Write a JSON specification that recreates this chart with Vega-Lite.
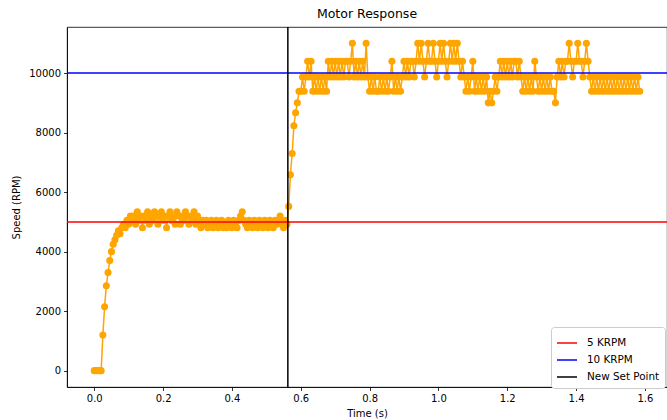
{
"$schema": "https://vega.github.io/schema/vega-lite/v6.json",
"width": 600,
"height": 360,
"autosize": {"type": "none"},
"padding": {"left": 67, "top": 27, "right": 0, "bottom": 33},
"background": "white",
"config": {
  "font": "DejaVu Sans",
  "view": {"stroke": "black", "strokeWidth": 0.8},
  "axis": {"domainColor": "black", "domainWidth": 0.8, "tickColor": "black", "tickWidth": 0.8, "tickSize": 3.5, "labelFontSize": 10, "labelColor": "black", "labelFont": "DejaVu Sans", "titleFont": "DejaVu Sans", "titleFontSize": 10, "titleFontWeight": "normal", "titleColor": "black", "grid": false},
  "title": {"fontSize": 12.5, "fontWeight": "normal", "font": "DejaVu Sans", "color": "black", "offset": 6},
  "legend": {"orient": "none", "legendX": 484, "legendY": 300, "padding": 5, "fillColor": "white", "strokeColor": "#cccccc", "cornerRadius": 3, "symbolType": "stroke", "symbolSize": 400, "symbolStrokeWidth": 1.5, "labelFontSize": 10.4, "labelFont": "DejaVu Sans", "labelColor": "black", "rowPadding": -4, "labelOffset": 9}
},
"title": "Motor Response",
"datasets": {
  "speed": [
{"t":0,"s":0},{"t":0.005,"s":0},{"t":0.01,"s":0},{"t":0.015,"s":0},{"t":0.02,"s":0},{"t":0.025,"s":1200},{"t":0.03,"s":2150},{"t":0.035,"s":2850},{"t":0.04,"s":3300},{"t":0.045,"s":3700},
{"t":0.05,"s":4000},{"t":0.055,"s":4250},{"t":0.06,"s":4400},{"t":0.065,"s":4550},{"t":0.07,"s":4700},{"t":0.075,"s":4600},{"t":0.08,"s":4800},{"t":0.085,"s":4920},{"t":0.09,"s":4800},{"t":0.095,"s":5050},
{"t":0.1,"s":4920},{"t":0.105,"s":5200},{"t":0.11,"s":5050},{"t":0.115,"s":5200},{"t":0.12,"s":4920},{"t":0.125,"s":5340},{"t":0.13,"s":5050},{"t":0.135,"s":5200},{"t":0.14,"s":4800},{"t":0.145,"s":5200},
{"t":0.15,"s":5050},{"t":0.155,"s":5340},{"t":0.16,"s":4920},{"t":0.165,"s":5200},{"t":0.17,"s":5050},{"t":0.175,"s":5340},{"t":0.18,"s":5200},{"t":0.185,"s":4920},{"t":0.19,"s":5200},{"t":0.195,"s":5340},
{"t":0.2,"s":5050},{"t":0.205,"s":5200},{"t":0.21,"s":4800},{"t":0.215,"s":5200},{"t":0.22,"s":5340},{"t":0.225,"s":5050},{"t":0.23,"s":5200},{"t":0.235,"s":4920},{"t":0.24,"s":5340},{"t":0.245,"s":5200},
{"t":0.25,"s":4920},{"t":0.255,"s":5200},{"t":0.26,"s":5050},{"t":0.265,"s":5340},{"t":0.27,"s":5200},{"t":0.275,"s":4920},{"t":0.28,"s":5200},{"t":0.285,"s":5050},{"t":0.29,"s":5340},{"t":0.295,"s":4920},
{"t":0.3,"s":5200},{"t":0.305,"s":5050},{"t":0.31,"s":4800},{"t":0.315,"s":5050},{"t":0.32,"s":4920},{"t":0.325,"s":5050},{"t":0.33,"s":4800},{"t":0.335,"s":4920},{"t":0.34,"s":5050},{"t":0.345,"s":4800},
{"t":0.35,"s":4920},{"t":0.355,"s":5050},{"t":0.36,"s":4800},{"t":0.365,"s":4920},{"t":0.37,"s":5050},{"t":0.375,"s":4800},{"t":0.38,"s":4920},{"t":0.385,"s":4800},{"t":0.39,"s":5050},{"t":0.395,"s":4920},
{"t":0.4,"s":4800},{"t":0.405,"s":5050},{"t":0.41,"s":4920},{"t":0.415,"s":4800},{"t":0.42,"s":5050},{"t":0.425,"s":5200},{"t":0.43,"s":5340},{"t":0.435,"s":5050},{"t":0.44,"s":4920},{"t":0.445,"s":4800},
{"t":0.45,"s":5050},{"t":0.455,"s":4920},{"t":0.46,"s":4800},{"t":0.465,"s":5050},{"t":0.47,"s":4920},{"t":0.475,"s":4800},{"t":0.48,"s":5050},{"t":0.485,"s":4920},{"t":0.49,"s":4800},{"t":0.495,"s":5050},
{"t":0.5,"s":4920},{"t":0.505,"s":4800},{"t":0.51,"s":5050},{"t":0.515,"s":4920},{"t":0.52,"s":4800},{"t":0.525,"s":5050},{"t":0.53,"s":4920},{"t":0.535,"s":5050},{"t":0.54,"s":5200},{"t":0.545,"s":4920},
{"t":0.55,"s":4800},{"t":0.555,"s":5050},{"t":0.56,"s":4920},{"t":0.565,"s":5520},{"t":0.57,"s":6580},{"t":0.575,"s":7300},{"t":0.58,"s":8230},{"t":0.585,"s":8670},{"t":0.59,"s":9000},{"t":0.595,"s":9390},
{"t":0.6,"s":9390},{"t":0.605,"s":9870},{"t":0.61,"s":9390},{"t":0.615,"s":9870},{"t":0.62,"s":10400},{"t":0.625,"s":9870},{"t":0.63,"s":10400},{"t":0.635,"s":9390},{"t":0.64,"s":9870},{"t":0.645,"s":9390},
{"t":0.65,"s":9870},{"t":0.655,"s":9390},{"t":0.66,"s":9870},{"t":0.665,"s":9390},{"t":0.67,"s":9870},{"t":0.675,"s":9390},{"t":0.68,"s":10400},{"t":0.685,"s":9870},{"t":0.69,"s":10400},{"t":0.695,"s":9870},
{"t":0.7,"s":10400},{"t":0.705,"s":9870},{"t":0.71,"s":10400},{"t":0.715,"s":9870},{"t":0.72,"s":10400},{"t":0.725,"s":9870},{"t":0.73,"s":10400},{"t":0.735,"s":10400},{"t":0.74,"s":9870},{"t":0.745,"s":10400},
{"t":0.75,"s":11000},{"t":0.755,"s":9870},{"t":0.76,"s":10400},{"t":0.765,"s":9870},{"t":0.77,"s":10400},{"t":0.775,"s":9870},{"t":0.78,"s":10400},{"t":0.785,"s":9870},{"t":0.79,"s":11000},{"t":0.795,"s":9870},
{"t":0.8,"s":9390},{"t":0.805,"s":9870},{"t":0.81,"s":9390},{"t":0.815,"s":9870},{"t":0.82,"s":9390},{"t":0.825,"s":9390},{"t":0.83,"s":9870},{"t":0.835,"s":9390},{"t":0.84,"s":9870},{"t":0.845,"s":9390},
{"t":0.85,"s":9870},{"t":0.855,"s":9390},{"t":0.86,"s":9870},{"t":0.865,"s":10400},{"t":0.87,"s":9390},{"t":0.875,"s":9870},{"t":0.88,"s":9390},{"t":0.885,"s":9870},{"t":0.89,"s":9390},{"t":0.895,"s":9870},
{"t":0.9,"s":10400},{"t":0.905,"s":9870},{"t":0.91,"s":10400},{"t":0.915,"s":9870},{"t":0.92,"s":10400},{"t":0.925,"s":10400},{"t":0.93,"s":9870},{"t":0.935,"s":10400},{"t":0.94,"s":11000},{"t":0.945,"s":10400},
{"t":0.95,"s":11000},{"t":0.955,"s":10400},{"t":0.96,"s":9870},{"t":0.965,"s":10400},{"t":0.97,"s":11000},{"t":0.975,"s":10400},{"t":0.98,"s":10400},{"t":0.985,"s":11000},{"t":0.99,"s":10400},{"t":0.995,"s":9870},
{"t":1,"s":10400},{"t":1.005,"s":11000},{"t":1.01,"s":10400},{"t":1.015,"s":11000},{"t":1.02,"s":10400},{"t":1.025,"s":9870},{"t":1.03,"s":10400},{"t":1.035,"s":11000},{"t":1.04,"s":10400},{"t":1.045,"s":11000},
{"t":1.05,"s":10400},{"t":1.055,"s":11000},{"t":1.06,"s":10400},{"t":1.065,"s":9870},{"t":1.07,"s":10400},{"t":1.075,"s":9870},{"t":1.08,"s":9390},{"t":1.085,"s":9870},{"t":1.09,"s":9390},{"t":1.095,"s":9870},
{"t":1.1,"s":10400},{"t":1.105,"s":9390},{"t":1.11,"s":9870},{"t":1.115,"s":9390},{"t":1.12,"s":9870},{"t":1.125,"s":9390},{"t":1.13,"s":9870},{"t":1.135,"s":9390},{"t":1.14,"s":9870},{"t":1.145,"s":9000},
{"t":1.15,"s":9390},{"t":1.155,"s":9000},{"t":1.16,"s":9390},{"t":1.165,"s":9870},{"t":1.17,"s":9390},{"t":1.175,"s":9870},{"t":1.18,"s":10400},{"t":1.185,"s":9870},{"t":1.19,"s":10400},{"t":1.195,"s":9870},
{"t":1.2,"s":10400},{"t":1.205,"s":9870},{"t":1.21,"s":10400},{"t":1.215,"s":9870},{"t":1.22,"s":10400},{"t":1.225,"s":10400},{"t":1.23,"s":9870},{"t":1.235,"s":10400},{"t":1.24,"s":9870},{"t":1.245,"s":9390},
{"t":1.25,"s":9870},{"t":1.255,"s":9390},{"t":1.26,"s":9870},{"t":1.265,"s":9390},{"t":1.27,"s":9870},{"t":1.275,"s":9390},{"t":1.28,"s":10400},{"t":1.285,"s":9870},{"t":1.29,"s":9390},{"t":1.295,"s":9870},
{"t":1.3,"s":9390},{"t":1.305,"s":9870},{"t":1.31,"s":9390},{"t":1.315,"s":9870},{"t":1.32,"s":9390},{"t":1.325,"s":9870},{"t":1.33,"s":9390},{"t":1.335,"s":9390},{"t":1.34,"s":9000},{"t":1.345,"s":9870},
{"t":1.35,"s":10400},{"t":1.355,"s":9870},{"t":1.36,"s":10400},{"t":1.365,"s":9870},{"t":1.37,"s":10400},{"t":1.375,"s":10400},{"t":1.38,"s":11000},{"t":1.385,"s":10400},{"t":1.39,"s":9870},{"t":1.395,"s":10400},
{"t":1.4,"s":10400},{"t":1.405,"s":11000},{"t":1.41,"s":10400},{"t":1.415,"s":10400},{"t":1.42,"s":9870},{"t":1.425,"s":10400},{"t":1.43,"s":11000},{"t":1.435,"s":10400},{"t":1.44,"s":9870},{"t":1.445,"s":9390},
{"t":1.45,"s":9870},{"t":1.455,"s":9390},{"t":1.46,"s":9870},{"t":1.465,"s":9390},{"t":1.47,"s":9870},{"t":1.475,"s":9390},{"t":1.48,"s":9870},{"t":1.485,"s":9390},{"t":1.49,"s":9870},{"t":1.495,"s":9390},
{"t":1.5,"s":9870},{"t":1.505,"s":9390},{"t":1.51,"s":9870},{"t":1.515,"s":9390},{"t":1.52,"s":9870},{"t":1.525,"s":9390},{"t":1.53,"s":9870},{"t":1.535,"s":9390},{"t":1.54,"s":9870},{"t":1.545,"s":9390},
{"t":1.55,"s":9870},{"t":1.555,"s":9390},{"t":1.56,"s":9870},{"t":1.565,"s":9390},{"t":1.57,"s":9870},{"t":1.575,"s":9390},{"t":1.58,"s":9870},{"t":1.585,"s":9390}
  ],
  "hlines": [{"label": "5 KRPM", "s": 5000}, {"label": "10 KRPM", "s": 10000}],
  "vlines": [{"label": "New Set Point", "t": 0.5625}]
},
"layer": [
  {
    "data": {"name": "speed"},
    "mark": {"type": "line", "color": "#FFA500", "strokeWidth": 1.5, "point": {"filled": true, "size": 50, "color": "#FFA500", "opacity": 1}},
    "encoding": {
      "x": {"field": "t", "type": "quantitative", "scale": {"domain": [-0.07925, 1.66425], "nice": false, "zero": false}, "axis": {"values": [0, 0.2, 0.4, 0.6, 0.8, 1.0, 1.2, 1.4, 1.6], "format": ".1f", "title": "Time (s)", "labelPadding": 3, "titlePadding": 5}},
      "y": {"field": "s", "type": "quantitative", "scale": {"domain": [-550, 11550], "nice": false, "zero": false}, "axis": {"values": [0, 2000, 4000, 6000, 8000, 10000], "format": "d", "title": "Speed (RPM)", "labelPadding": 3, "titlePadding": 7}}
    }
  },
  {
    "data": {"name": "hlines"},
    "mark": {"type": "rule", "strokeWidth": 1.5},
    "encoding": {
      "y": {"field": "s", "type": "quantitative", "scale": {"domain": [-550, 11550], "nice": false, "zero": false}, "axis": {"values": [0, 2000, 4000, 6000, 8000, 10000], "format": "d", "title": "Speed (RPM)", "labelPadding": 3, "titlePadding": 7}},
      "color": {"field": "label", "type": "nominal", "scale": {"domain": ["5 KRPM", "10 KRPM", "New Set Point"], "range": ["#FF0000", "#0000FF", "#000000"]}, "legend": {"title": null}}
    }
  },
  {
    "data": {"name": "vlines"},
    "mark": {"type": "rule", "strokeWidth": 1.5},
    "encoding": {
      "x": {"field": "t", "type": "quantitative", "scale": {"domain": [-0.07925, 1.66425], "nice": false, "zero": false}, "axis": {"values": [0, 0.2, 0.4, 0.6, 0.8, 1.0, 1.2, 1.4, 1.6], "format": ".1f", "title": "Time (s)", "labelPadding": 3, "titlePadding": 5}},
      "color": {"field": "label", "type": "nominal", "scale": {"domain": ["5 KRPM", "10 KRPM", "New Set Point"], "range": ["#FF0000", "#0000FF", "#000000"]}, "legend": {"title": null}}
    }
  }
]
}
